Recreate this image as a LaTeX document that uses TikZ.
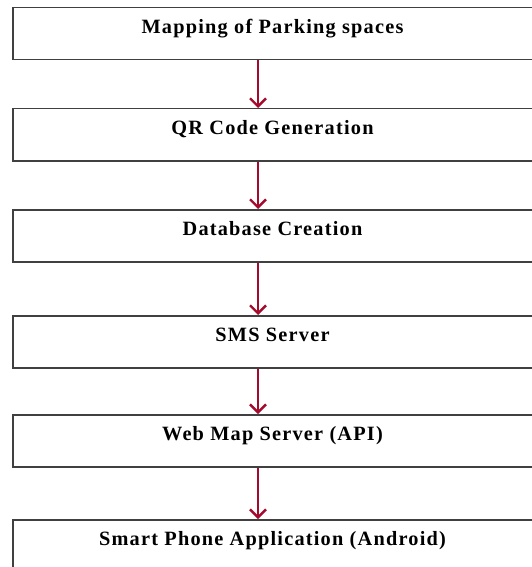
\documentclass[tikz,border=0pt]{standalone}
\usepackage{fontspec}
\setmainfont{Liberation Serif}[LetterSpace=6]
\usetikzlibrary{arrows.meta}
\definecolor{flowred}{RGB}{165,10,45}
\begin{document}
\begin{tikzpicture}[x=1pt,y=-1pt,font=\fontsize{20.3}{24}\selectfont\bfseries,
    stage/.style={draw=black!75,line width=1.5pt,anchor=north west,minimum width=519.5pt,
      inner sep=0pt,text height=25.5pt,text depth=26.5pt},
    flow/.style={flowred,line width=2.4pt,-{Straight Barb[length=8pt,width=16pt,line width=2.4pt]}}]
    \useasboundingbox (0,0) rectangle (532,567);
    \clip (0,0) rectangle (532,567);
    \node[stage](map) at (12,7) {Mapping of Parking spaces};
    \node[stage](qr) at (12,108) {QR Code Generation};
    \node[stage](db) at (12,209) {Database Creation};
    \node[stage](sms) at (12,315) {SMS Server};
    \node[stage](web) at (12,414) {Web Map Server (API)};
    \node[stage](app) at (12,519) {Smart Phone Application (Android)};
    \foreach \a/\b in {map/qr,qr/db,db/sms,sms/web,web/app}
        \draw[flow]([xshift=-14.5pt]\a.south)--([xshift=-14.5pt]\b.north);
\end{tikzpicture}
\end{document}
